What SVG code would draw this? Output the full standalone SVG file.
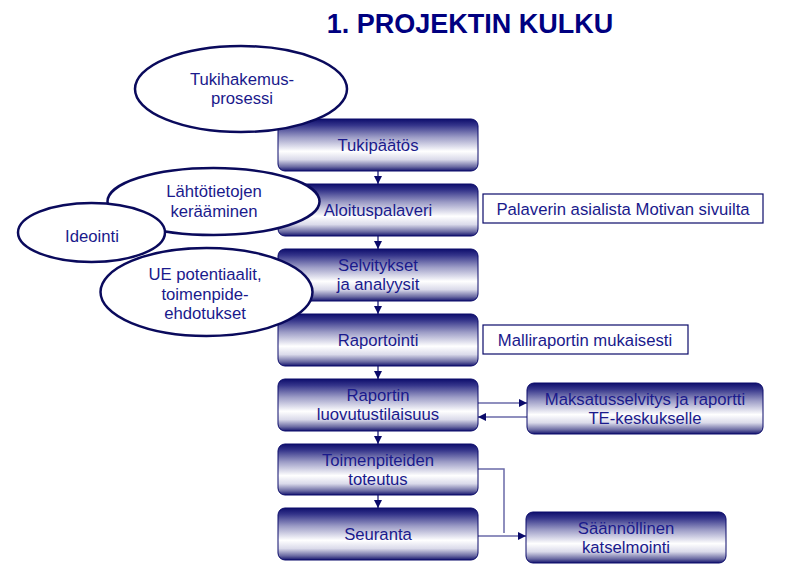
<svg xmlns="http://www.w3.org/2000/svg" width="793" height="588" viewBox="0 0 793 588">
<defs>
<linearGradient id="g" x1="0" y1="0" x2="0" y2="1">
<stop offset="0" stop-color="#0e0e6c"/>
<stop offset="0.12" stop-color="#34348a"/>
<stop offset="0.35" stop-color="#9c9cc6"/>
<stop offset="0.62" stop-color="#ffffff"/>
<stop offset="0.78" stop-color="#dadaea"/>
<stop offset="0.92" stop-color="#6a6aa2"/>
<stop offset="1" stop-color="#14146e"/>
</linearGradient>
<marker id="a" viewBox="0 0 10 10" refX="10" refY="5" markerWidth="8" markerHeight="8" markerUnits="userSpaceOnUse" orient="auto">
<path d="M0,0 L10,5 L0,10 z" fill="#0a0a6a"/>
</marker>
</defs>
<style>
.box{fill:url(#g);stroke:#0a0a6a;stroke-width:1}
.note{fill:#fff;stroke:#0a0a6a;stroke-width:1.2}
.ell{fill:#fff;stroke:#0a0a5c;stroke-width:2.5}
text{font-family:"Liberation Sans",Arial,sans-serif;font-size:16.7px;fill:#1a1a8c;text-anchor:middle}
.title{font-size:27px;font-weight:bold;fill:#000080}
.c{fill:none;stroke:#0a0a6a;stroke-width:1.2}
.cl{fill:none;stroke:#6a6aa8;stroke-width:1.5}
</style>
<text class="title" x="470" y="33">1. PROJEKTIN KULKU</text>

<g id="connectors">
<line class="c" x1="378" y1="171" x2="378" y2="184" marker-end="url(#a)"/>
<line class="c" x1="378" y1="236" x2="378" y2="249" marker-end="url(#a)"/>
<line class="c" x1="378" y1="300" x2="378" y2="314" marker-end="url(#a)"/>
<line class="c" x1="378" y1="366" x2="378" y2="379" marker-end="url(#a)"/>
<line class="c" x1="378" y1="431" x2="378" y2="444" marker-end="url(#a)"/>
<line class="c" x1="378" y1="495" x2="378" y2="508" marker-end="url(#a)"/>
<line class="cl" x1="478" y1="403" x2="527" y2="403" marker-end="url(#a)"/>
<line class="cl" x1="527" y1="417" x2="478" y2="417" marker-end="url(#a)"/>
<polyline class="cl" points="478,469 504,469 504,533"/>
<line class="cl" x1="478" y1="536" x2="526" y2="536" marker-end="url(#a)"/>
</g>

<g id="tukipaatos"><rect class="box" x="278" y="119" width="200" height="52" rx="7"/><text x="378" y="151">Tukipäätös</text></g>
<g id="aloituspalaveri"><rect class="box" x="278" y="184" width="200" height="52" rx="7"/><text x="378" y="216">Aloituspalaveri</text></g>
<g id="selvitykset"><rect class="box" x="278" y="249" width="200" height="52" rx="7"/><text x="378" y="271">Selvitykset</text><text x="378" y="290">ja analyysit</text></g>
<g id="raportointi"><rect class="box" x="278" y="314" width="200" height="52" rx="7"/><text x="378" y="346">Raportointi</text></g>
<g id="luovutus"><rect class="box" x="278" y="379" width="200" height="52" rx="7"/><text x="378" y="401">Raportin</text><text x="378" y="420">luovutustilaisuus</text></g>
<g id="toteutus"><rect class="box" x="278" y="444" width="200" height="51" rx="7"/><text x="378" y="466">Toimenpiteiden</text><text x="378" y="485">toteutus</text></g>
<g id="seuranta"><rect class="box" x="278" y="508" width="200" height="52" rx="7"/><text x="378" y="540">Seuranta</text></g>

<g id="palaverin"><rect class="note" x="483" y="194" width="280" height="29"/><text x="623" y="215">Palaverin asialista Motivan sivuilta</text></g>
<g id="malliraportin"><rect class="note" x="483" y="325" width="205" height="29"/><text x="585" y="346">Malliraportin mukaisesti</text></g>
<g id="maksatus"><rect class="box" x="527" y="383" width="236" height="51" rx="7"/><text x="645" y="405">Maksatusselvitys ja raportti</text><text x="645" y="424">TE-keskukselle</text></g>
<g id="katselmointi"><rect class="box" x="526" y="512" width="200" height="51" rx="7"/><text x="626" y="534">Säännöllinen</text><text x="626" y="553">katselmointi</text></g>

<g id="tukihakemus"><ellipse class="ell" cx="241" cy="89" rx="106" ry="43"/><text x="242" y="85">Tukihakemus-</text><text x="242" y="104">prosessi</text></g>
<g id="lahtotietojen"><ellipse class="ell" cx="213.5" cy="201.5" rx="106" ry="33.5"/><text x="214" y="197">Lähtötietojen</text><text x="214" y="217">kerääminen</text></g>
<g id="ideointi"><ellipse class="ell" cx="91.5" cy="232.5" rx="73.5" ry="29.5"/><text x="92" y="242">Ideointi</text></g>
<g id="ue"><ellipse class="ell" cx="206.5" cy="292" rx="106" ry="44"/><text x="205" y="280">UE potentiaalit,</text><text x="205" y="300">toimenpide-</text><text x="205" y="319">ehdotukset</text></g>
</svg>
